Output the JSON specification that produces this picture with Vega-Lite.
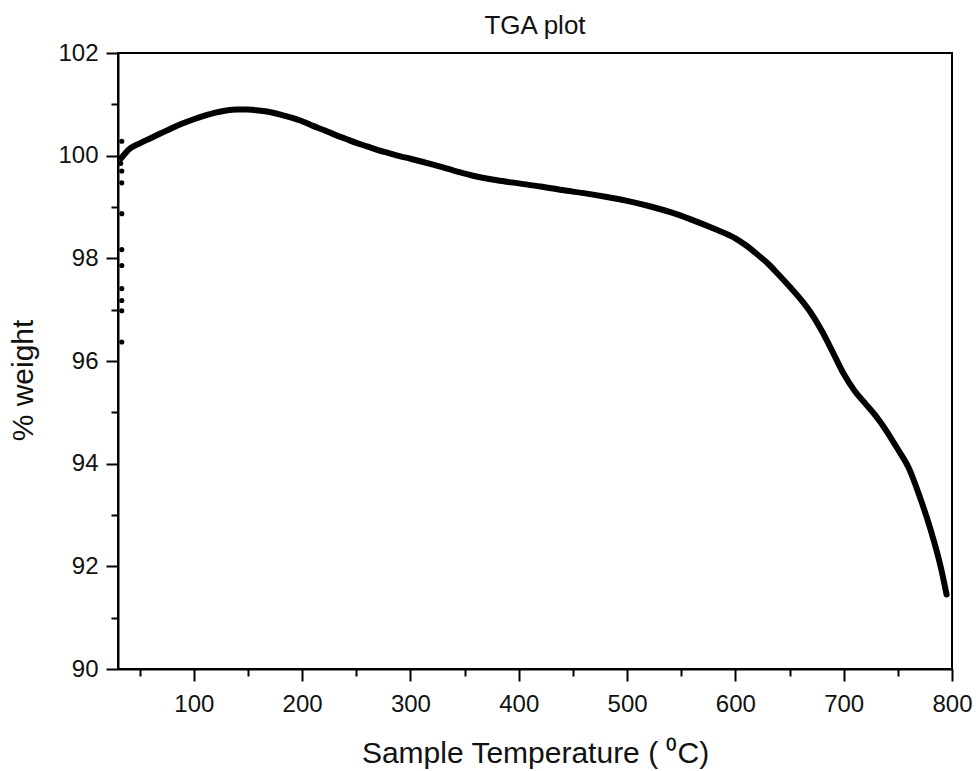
{
  "$schema": "https://vega.github.io/schema/vega-lite/v6.json",
  "width": 834,
  "height": 616,
  "autosize": "none",
  "padding": {"left": 118, "top": 53, "right": 24, "bottom": 102},
  "background": "white",
  "config": {
    "font": "Liberation Sans",
    "view": {"stroke": "black", "strokeWidth": 2},
    "axis": {"grid": false, "labelColor": "#111", "titleColor": "#111", "tickColor": "black", "domainColor": "black", "labelFont": "Liberation Sans", "titleFont": "Liberation Sans", "titleFontWeight": "normal", "labelFlush": false, "labelOverlap": false}
  },
  "title": {"text": "TGA plot", "fontSize": 26, "fontWeight": "normal", "font": "Liberation Sans", "color": "#111", "anchor": "middle", "baseline": "alphabetic", "offset": 16, "dy": 35},
  "datasets": {
    "curve": [
      {"T": 33, "W": 99.95}, {"T": 40, "W": 100.12}, {"T": 50, "W": 100.24}, {"T": 60, "W": 100.34},
      {"T": 70, "W": 100.44}, {"T": 80, "W": 100.54}, {"T": 90, "W": 100.63}, {"T": 100, "W": 100.71},
      {"T": 110, "W": 100.78}, {"T": 120, "W": 100.84}, {"T": 130, "W": 100.88}, {"T": 140, "W": 100.9},
      {"T": 150, "W": 100.9}, {"T": 160, "W": 100.88}, {"T": 170, "W": 100.85}, {"T": 180, "W": 100.8},
      {"T": 190, "W": 100.74}, {"T": 200, "W": 100.67}, {"T": 210, "W": 100.58}, {"T": 220, "W": 100.5},
      {"T": 230, "W": 100.41}, {"T": 240, "W": 100.33}, {"T": 250, "W": 100.25}, {"T": 260, "W": 100.18},
      {"T": 270, "W": 100.11}, {"T": 280, "W": 100.05}, {"T": 290, "W": 99.99}, {"T": 300, "W": 99.94},
      {"T": 320, "W": 99.83}, {"T": 340, "W": 99.71}, {"T": 360, "W": 99.6}, {"T": 380, "W": 99.52},
      {"T": 400, "W": 99.46}, {"T": 420, "W": 99.4}, {"T": 440, "W": 99.33}, {"T": 460, "W": 99.27},
      {"T": 480, "W": 99.2}, {"T": 500, "W": 99.12}, {"T": 520, "W": 99.02}, {"T": 540, "W": 98.9},
      {"T": 560, "W": 98.75}, {"T": 580, "W": 98.58}, {"T": 600, "W": 98.39}, {"T": 610, "W": 98.25},
      {"T": 620, "W": 98.08}, {"T": 630, "W": 97.9}, {"T": 640, "W": 97.68}, {"T": 650, "W": 97.45},
      {"T": 660, "W": 97.21}, {"T": 670, "W": 96.93}, {"T": 680, "W": 96.58}, {"T": 690, "W": 96.17},
      {"T": 700, "W": 95.75}, {"T": 710, "W": 95.42}, {"T": 720, "W": 95.17}, {"T": 730, "W": 94.92},
      {"T": 740, "W": 94.62}, {"T": 750, "W": 94.28}, {"T": 760, "W": 93.92}, {"T": 770, "W": 93.37},
      {"T": 780, "W": 92.73}, {"T": 790, "W": 91.95}, {"T": 795, "W": 91.45}
    ],
    "dots": [
      {"T": 33.5, "W": 100.28}, {"T": 32.5, "W": 99.85}, {"T": 33.5, "W": 99.7}, {"T": 33.5, "W": 99.47},
      {"T": 33.5, "W": 98.87}, {"T": 33.5, "W": 98.17}, {"T": 33.5, "W": 97.86}, {"T": 33.5, "W": 97.41},
      {"T": 33.5, "W": 97.18}, {"T": 33.5, "W": 96.98}, {"T": 33.5, "W": 96.37}
    ]
  },
  "layer": [
    {
      "data": {"name": "curve"},
      "mark": {"type": "line", "color": "black", "strokeWidth": 6, "strokeJoin": "round", "strokeCap": "round", "interpolate": "monotone"},
      "encoding": {
        "x": {"field": "T", "type": "quantitative", "scale": {"domain": [30, 800], "nice": false, "zero": false},
          "axis": {"orient": "bottom", "values": [100, 200, 300, 400, 500, 600, 700, 800], "tickSize": 12, "tickWidth": 2, "domainWidth": 2, "labelFontSize": 24, "labelPadding": 11, "title": "Sample Temperature ( ⁰C)", "titleFontSize": 30, "titleBaseline": "alphabetic", "titleY": 93}},
        "y": {"field": "W", "type": "quantitative", "scale": {"domain": [90, 102], "nice": false, "zero": false},
          "axis": {"orient": "left", "values": [90, 92, 94, 96, 98, 100, 102], "tickSize": 12, "tickWidth": 2, "domainWidth": 2, "labelFontSize": 24, "labelPadding": 8, "title": "% weight", "titleFontSize": 30, "titleAngle": 270, "titleAlign": "center", "titleBaseline": "alphabetic", "titleX": -86, "titleY": 327}}
      }
    },
    {
      "data": {"name": "dots"},
      "mark": {"type": "circle", "color": "black", "opacity": 1, "size": 26},
      "encoding": {
        "x": {"field": "T", "type": "quantitative",
          "axis": {"orient": "bottom", "values": [50, 150, 250, 350, 450, 550, 650, 750], "tickSize": 7, "tickWidth": 2, "domain": false, "labels": false, "title": null}},
        "y": {"field": "W", "type": "quantitative",
          "axis": {"orient": "left", "values": [91, 93, 95, 97, 99, 101], "tickSize": 7, "tickWidth": 2, "domain": false, "labels": false, "title": null}}
      }
    }
  ],
  "resolve": {"axis": {"x": "independent", "y": "independent"}}
}
